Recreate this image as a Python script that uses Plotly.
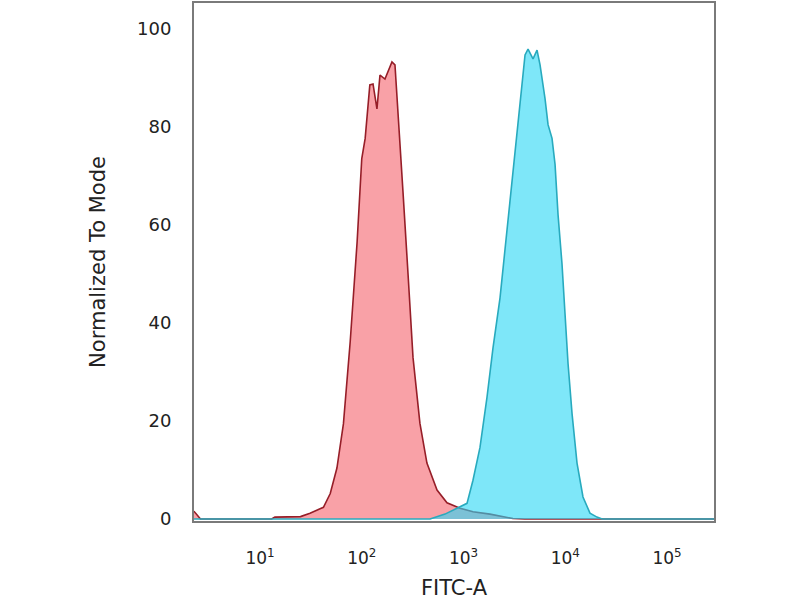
import plotly.graph_objects as go

# FITC-A intensity values and normalized-to-mode counts
isotype_x = [2.24, 2.6, 13, 14, 25, 31, 42, 49, 57, 66, 77, 90, 100, 108, 120, 129, 141, 151,
             169, 198, 212, 227, 254, 285, 319, 373, 437, 549, 688, 924, 1240, 1820, 3060,
             4000, 290000]
isotype_y = [1.6, 0, 0, 0.4, 0.5, 1.2, 2.4, 5.2, 10.4, 19.4, 36.2, 56.5, 73.5, 77.6, 88.5, 88.7,
             83.6, 90.5, 89.7, 93.2, 92.6, 83.6, 66.8, 49.9, 32.9, 19.5, 11.4, 5.9, 3.3, 2.2,
             1.5, 1.0, 0.1, 0, 0]

stained_x = [2.24, 469, 658, 863, 1082, 1239, 1452, 1701, 1949, 2285, 2559, 2866, 3209, 3593,
             4024, 4308, 4823, 5279, 5651, 6328, 6775, 7413, 7937, 8489, 9292, 9950, 10650,
             11660, 13050, 14940, 17500, 20500, 23000, 290000]
stained_y = [0, 0, 1.0, 2.2, 3.2, 7.9, 14.6, 24.8, 34.9, 45.1, 55.2, 65.4, 75.5, 85.7, 94.6,
             95.8, 93.8, 95.6, 92.6, 85.7, 80.4, 77.6, 72.3, 62.1, 52.0, 41.8, 31.7, 21.5,
             11.4, 4.5, 1.2, 0.4, 0, 0]

x_ticks = [10, 100, 1000, 10000, 100000]
x_tick_text = ["10<sup>1</sup>", "10<sup>2</sup>", "10<sup>3</sup>", "10<sup>4</sup>", "10<sup>5</sup>"]
y_ticks = [0, 20, 40, 60, 80, 100]

fig = go.Figure()
fig.add_trace(go.Scatter(x=isotype_x, y=isotype_y, mode="lines", fill="tozeroy",
                         line=dict(color="rgb(150,30,40)", width=1.6),
                         fillcolor="rgba(245,90,100,0.57)", showlegend=False))
fig.add_trace(go.Scatter(x=stained_x, y=stained_y, mode="lines", fill="tozeroy",
                         line=dict(color="rgb(40,170,190)", width=1.6),
                         fillcolor="rgba(40,215,245,0.6)", showlegend=False))

fig.update_layout(
    width=800, height=600,
    margin=dict(l=194, r=86, t=1, b=79),
    paper_bgcolor="white", plot_bgcolor="white",
    font=dict(family="DejaVu Sans", size=17, color="#222"),
)
fig.update_xaxes(type="log", range=[0.351, 5.462], tickvals=x_ticks, ticktext=x_tick_text,
                 tickfont=dict(size=17),
                 showgrid=False, zeroline=False, showline=True, mirror=True,
                 linecolor="#7a7a7a", linewidth=2, ticks="", ticklabelstandoff=21,
                 title=dict(text="FITC-A", font=dict(size=21), standoff=14))
fig.update_yaxes(range=[-0.4, 105.2], tickvals=y_ticks, tickfont=dict(size=18),
                 showgrid=False, zeroline=False, showline=True, mirror=True,
                 linecolor="#7a7a7a", linewidth=2, ticks="", ticklabelstandoff=17,
                 title=dict(text="Normalized To Mode", font=dict(size=21), standoff=26))

# drop the page's default body margin so the figure sits at the window corner
fig.write_html("out.html", config={"displayModeBar": False},
               post_script="document.body.style.margin='0px';")
